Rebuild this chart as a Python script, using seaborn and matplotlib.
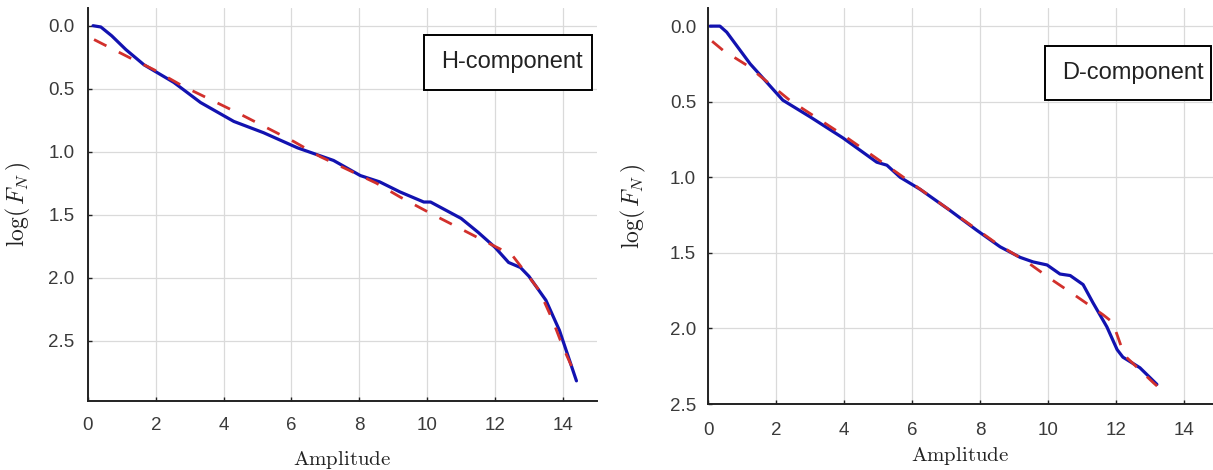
import matplotlib
matplotlib.use("Agg")
import matplotlib.pyplot as plt
import seaborn as sns
from matplotlib.patches import Rectangle
from matplotlib.ticker import FormatStrFormatter

# H-component: measured curve (blue) and fit (red dashed)
h_meas_x = [0.15, 0.38, 0.7, 1.12, 1.65, 2.53, 3.32, 4.3, 5.18, 6.18, 7.24, 8.03, 8.6,
            9.2, 9.9, 10.1, 11.0, 11.5, 12.0, 12.4, 12.75, 13.0, 13.5, 13.9, 14.1, 14.4]
h_meas_y = [0.0, 0.01, 0.08, 0.19, 0.31, 0.45, 0.61, 0.76, 0.85, 0.97, 1.07, 1.19, 1.24,
            1.32, 1.40, 1.40, 1.53, 1.64, 1.76, 1.88, 1.92, 1.99, 2.18, 2.42, 2.58, 2.82]
h_fit_x = [0.18, 1.2, 1.95, 2.8, 4.4, 6.07, 6.85, 8.5, 9.2, 10.1, 10.97, 11.76, 12.5,
           13.3, 13.7, 14.0, 14.4]
h_fit_y = [0.11, 0.25, 0.35, 0.48, 0.69, 0.92, 1.04, 1.25, 1.36, 1.49, 1.61, 1.72, 1.82,
           2.10, 2.34, 2.55, 2.79]

# D-component
d_meas_x = [0.06, 0.35, 0.55, 1.24, 2.2, 3.0, 3.97, 4.96, 5.26, 5.65, 6.24, 7.12, 7.9,
            8.59, 9.18, 9.56, 9.97, 10.35, 10.65, 11.03, 11.32, 11.73, 12.03, 12.2,
            12.7, 13.2]
d_meas_y = [0.0, 0.0, 0.04, 0.25, 0.49, 0.60, 0.74, 0.90, 0.92, 1.0, 1.08, 1.22, 1.35,
            1.46, 1.53, 1.56, 1.58, 1.64, 1.65, 1.71, 1.83, 1.99, 2.14, 2.19, 2.26, 2.37]
d_fit_x = [0.12, 0.44, 1.15, 2.4, 3.97, 5.56, 8.5, 9.38, 10.06, 10.85, 11.62, 11.9,
           12.2, 12.3, 13.1, 13.25]
d_fit_y = [0.10, 0.16, 0.26, 0.49, 0.72, 0.97, 1.44, 1.56, 1.67, 1.79, 1.91, 1.96,
           2.15, 2.19, 2.36, 2.39]

x_ticks = [0, 2, 4, 6, 8, 10, 12, 14]
y_ticks = [0.0, 0.5, 1.0, 1.5, 2.0, 2.5]

blue = "#1212b0"
red = "#d2302c"
ink = "#222222"

sns.set_theme(style="whitegrid")
plt.rcParams["font.family"] = ["Liberation Sans", "DejaVu Sans"]
plt.rcParams["mathtext.fontset"] = "cm"

fig = plt.figure(figsize=(12.13, 4.70), dpi=100)
ax1 = fig.add_axes([0.0725, 0.1468, 0.4195, 0.836])
ax2 = fig.add_axes([0.5837, 0.1404, 0.4163, 0.8426])

panels = [
    (ax1, h_meas_x, h_meas_y, h_fit_x, h_fit_y, (0, 15), (2.98, -0.14), "H-component",
     (0.660, 0.791, 0.330, 0.140), (0.833, 0.863), -0.108, -0.122, 9.5, 11.5),
    (ax2, d_meas_x, d_meas_y, d_fit_x, d_fit_y, (0, 14.85), (2.5, -0.12), "D-component",
     (0.667, 0.768, 0.329, 0.136), (0.842, 0.836), -0.119, -0.104, 8.6, 13),
]

for (ax, mx, my, fx, fy, xl, yl, name, box, tpos, ylab_x, xlab_y, ypad, xpad) in panels:
    sns.lineplot(x=mx, y=my, ax=ax, color=blue, lw=2.3, sort=False, estimator=None)
    sns.lineplot(x=fx, y=fy, ax=ax, color=red, lw=2.0, sort=False, estimator=None)
    ax.lines[-1].set_dashes([5, 5])

    ax.set_xlim(*xl)
    ax.set_ylim(*yl)
    ax.set_xticks(x_ticks)
    ax.set_yticks(y_ticks)
    ax.yaxis.set_major_formatter(FormatStrFormatter("%.1f"))
    ax.set_facecolor("white")
    ax.grid(True, color="#dadada", lw=0.9)
    for s in ["top", "right"]:
        ax.spines[s].set_visible(False)
    for s in ["left", "bottom"]:
        ax.spines[s].set_visible(True)
        ax.spines[s].set_color(ink)
        ax.spines[s].set_linewidth(1.4)
    ax.tick_params(direction="in", length=3, width=1, color=ink, labelcolor="#3a3a3a",
                   labelsize=13.5, left=True, bottom=True)
    ax.tick_params(axis="y", pad=ypad)
    ax.tick_params(axis="x", pad=xpad)

    ax.set_ylabel(r"$\log(\,F_N\,)$", fontsize=17, color=ink)
    ax.yaxis.set_label_coords(ylab_x, 0.5)
    ax.set_xlabel(r"$\mathrm{Amplitude}$", fontsize=15, color=ink)
    ax.xaxis.set_label_coords(0.5, xlab_y)

    ax.add_patch(Rectangle((box[0], box[1]), box[2], box[3], transform=ax.transAxes,
                           facecolor="white", edgecolor="black", lw=1.4, zorder=5,
                           clip_on=False))
    ax.text(tpos[0], tpos[1], name, transform=ax.transAxes, ha="center", va="center",
            fontsize=17, color=ink, zorder=6)

fig.savefig("out.png", dpi=100)
